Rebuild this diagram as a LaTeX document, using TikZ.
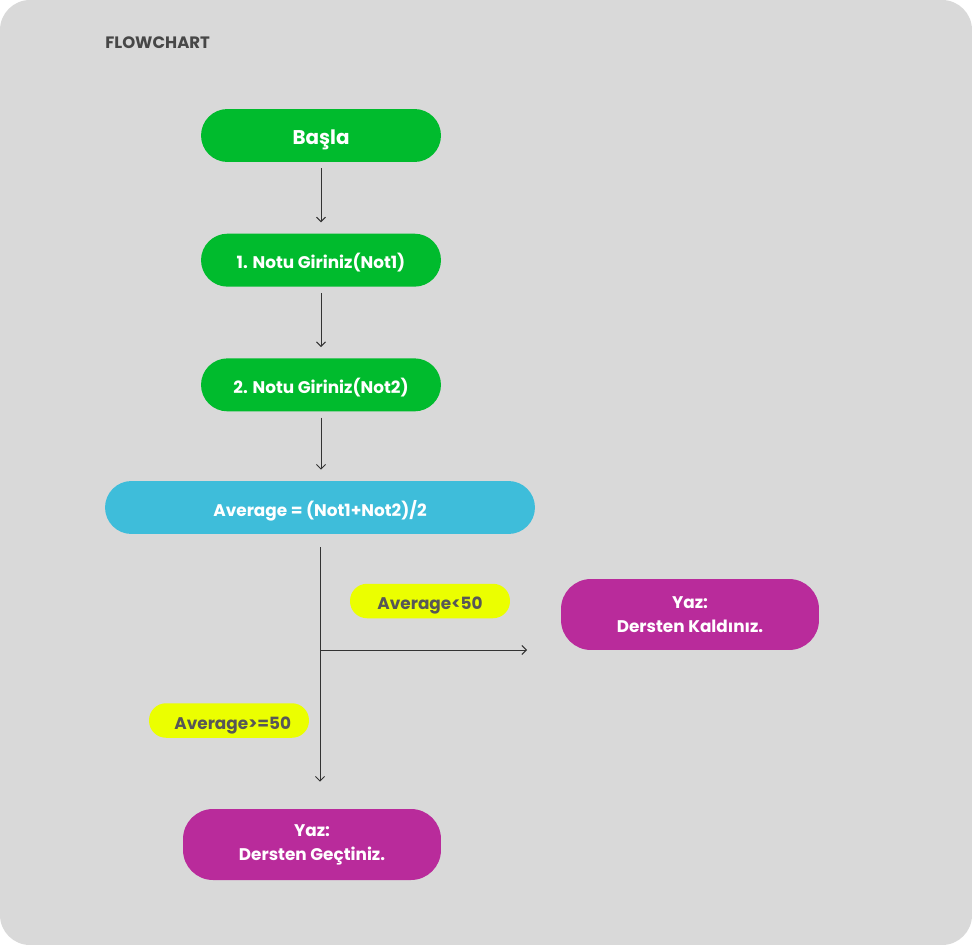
\documentclass[tikz,border=0pt]{standalone}
\usepackage{fontspec}
\setmainfont{Poppins}
\usetikzlibrary{arrows.meta, positioning}
\definecolor{bggray}{HTML}{D9D9D9}
\definecolor{titlegray}{HTML}{474747}
\definecolor{stepgreen}{HTML}{00BB2D}
\definecolor{calcblue}{HTML}{3EBDDA}
\definecolor{condyellow}{HTML}{EBFF00}
\definecolor{condtext}{HTML}{575757}
\definecolor{outpurple}{HTML}{B92B9B}
\definecolor{linegray}{HTML}{333333}
\tikzset{%
>={Straight Barb[length=0.9mm,width=1.8mm]},
  % Specifications for style of nodes:
            pill/.style = {rectangle, inner sep=0pt, align=center,
                            text=white, font=\bfseries\fontsize{9.6}{13.6}\selectfont},
            oneline/.style = {text height=1em, text depth=0pt},
            stepbox/.style = {pill, oneline, fill=stepgreen, rounded corners=0.53cm,
                            minimum width=4.8cm, minimum height=1.06cm},
            calcbox/.style = {pill, oneline, fill=calcblue, rounded corners=0.53cm,
                            minimum width=8.6cm, minimum height=1.06cm},
            condbox/.style = {pill, oneline, fill=condyellow, text=condtext, rounded corners=0.34cm,
                            minimum width=3.2cm, minimum height=0.69cm},
            outbox/.style = {pill, fill=outpurple, rounded corners=0.6cm,
                            minimum width=5.16cm, minimum height=1.42cm},
            link/.style = {->, draw=linegray, line width=0.55pt}
}
\begin{document}
\begin{tikzpicture}[x=0.02cm, y=-0.02cm, node distance=1.42cm]
                        % background card
                        \fill[white] (0,0) rectangle (972,945);
                        \fill[bggray, rounded corners=0.6cm] (0,0) rectangle (972,945);
                        \node[anchor=base west, inner sep=0pt, text=titlegray, font=\bfseries\fontsize{9.4}{11}\selectfont] (title) at (105,48.3) {FLOWCHART};
                        % steps
                        \node[stepbox, font=\bfseries\fontsize{11.3}{13}\selectfont] (basla) at (321,135.5) {Başla};
                        \node[stepbox] (not1) [below=of basla] {1. Notu Giriniz(Not1)};
                        \node[stepbox] (not2) [below=of not1] {2. Notu Giriniz(Not2)};
                        \node[calcbox] (avg) at (320,507.5) {Average = (Not1+Not2)/2};
                        \node[condbox] (low) at (430,601) {Average<50};
                        \node[outbox] (kal) at (690,614.5) {Yaz:\\Dersten Kaldınız.};
                        \node[condbox] (high) at (229,720.5) {\hspace{0.15cm}Average>=50};
                        \node[outbox] (gec) at (312,844.5) {Yaz:\\Dersten Geçtiniz.};
                        \coordinate (split) at (320,650);
                        \coordinate (kalend) at (527,650);
                        % connectors
                        \draw[link, shorten <=0.12cm, shorten >=0.22cm] (basla) -- (not1);
                        \draw[link, shorten <=0.12cm, shorten >=0.22cm] (not1) -- (not2);
                        \draw[link, shorten <=0.12cm, shorten >=0.22cm] (not2.south) -- (not2.south |- avg.north);
                        \draw[link, shorten <=0.26cm, shorten >=0.54cm] (avg.south) -- (avg.south |- gec.north);
                        \draw[link] (split) -- (kalend);
                    \end{tikzpicture}
\end{document}
